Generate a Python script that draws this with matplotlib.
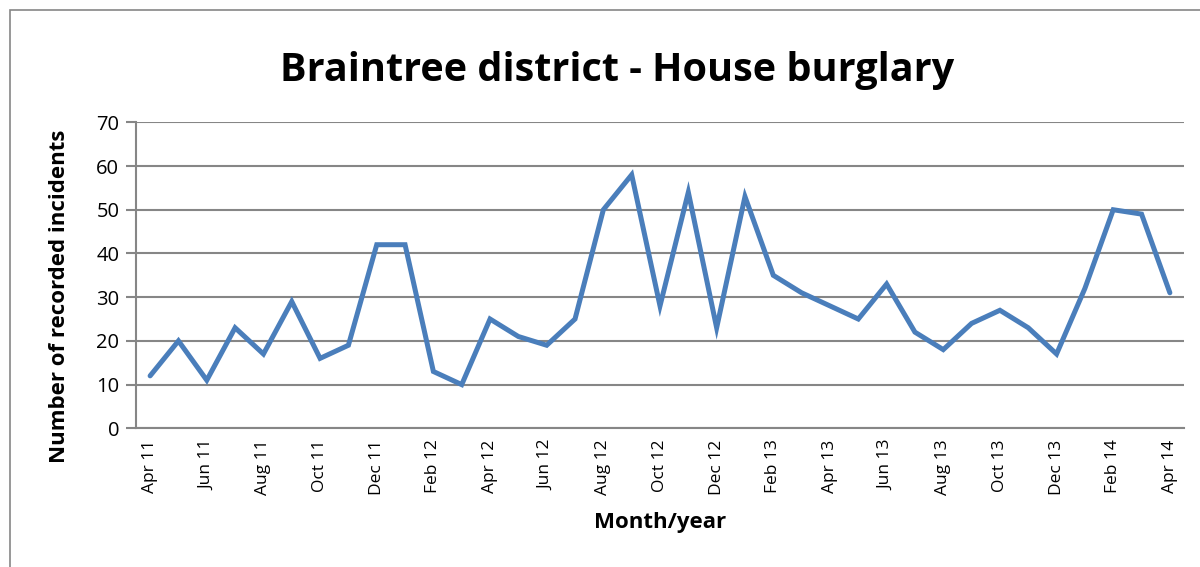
import matplotlib
matplotlib.use("Agg")
import matplotlib.pyplot as plt
from matplotlib.patches import Rectangle

# monthly recorded house burglaries, Apr 2011 .. Apr 2014
months = ["Apr 11", "May 11", "Jun 11", "Jul 11", "Aug 11", "Sep 11", "Oct 11",
          "Nov 11", "Dec 11", "Jan 12", "Feb 12", "Mar 12", "Apr 12", "May 12",
          "Jun 12", "Jul 12", "Aug 12", "Sep 12", "Oct 12", "Nov 12", "Dec 12",
          "Jan 13", "Feb 13", "Mar 13", "Apr 13", "May 13", "Jun 13", "Jul 13",
          "Aug 13", "Sep 13", "Oct 13", "Nov 13", "Dec 13", "Jan 14", "Feb 14",
          "Mar 14", "Apr 14"]
incidents = [12, 20, 11, 23, 17, 29, 16, 19, 42, 42, 13, 10, 25, 21, 19, 25,
             50, 58, 28, 54, 23, 53, 35, 31, 28, 25, 33, 22, 18, 24, 27, 23,
             17, 32, 50, 49, 31]
y_ticks = [0, 10, 20, 30, 40, 50, 60, 70]

plt.rcParams['font.family'] = ['Open Sans', 'DejaVu Sans']

fig = plt.figure(figsize=(12, 5.67), dpi=100)
ax = fig.add_axes([0.1133, 0.2446, 0.8734, 0.5397])

# outer chart border
fig.patches.append(Rectangle((10 / 1200, -0.1), 1.2, 1 - 10 / 567 + 0.1,
                             transform=fig.transFigure, fill=False,
                             edgecolor='#868686', linewidth=1.2))

x = list(range(len(months)))
ax.plot(x, incidents, color='#4a7ebb', linewidth=3.6, solid_joinstyle='miter',
        solid_capstyle='round', zorder=3)

ax.set_xlim(-0.5, len(months) - 0.5)
ax.set_ylim(0, 70)
ax.set_yticks(y_ticks)
ax.set_xticks(x[::2])
ax.set_xticklabels(months[::2], rotation=90, fontsize=12.5)
ax.tick_params(axis='y', labelsize=14.5, length=7, width=1.5, color='#868686',
               pad=5)
ax.tick_params(axis='x', length=0, pad=8)
ax.grid(axis='y', color='#868686', linewidth=1.5)
ax.set_axisbelow(True)

for s in ['top', 'right']:
    ax.spines[s].set_visible(False)
for s in ['left', 'bottom']:
    ax.spines[s].set_color('#868686')
    ax.spines[s].set_linewidth(1.5)

ax.set_ylabel("Number of recorded incidents", fontsize=16, fontweight='bold')
ax.yaxis.set_label_coords(-0.063, 0.432)
ax.set_xlabel("Month/year", fontsize=16, fontweight='bold', labelpad=12)
fig.text(0.514, 0.876, "Braintree district - House burglary", ha='center',
         va='center', fontsize=28.5, fontweight='bold')

fig.savefig("out.png", dpi=100)
